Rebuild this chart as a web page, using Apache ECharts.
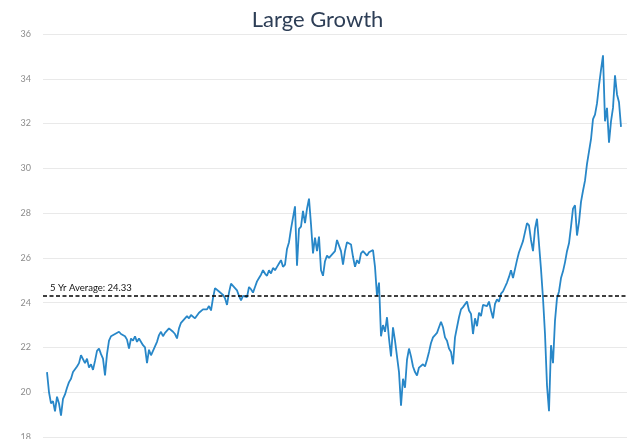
<!DOCTYPE html>
<html>
<head>
<meta charset="utf-8">
<title>Large Growth</title>
<script src="https://cdn.jsdelivr.net/npm/echarts@6/dist/echarts.min.js"></script>
<style>
  html, body { margin: 0; padding: 0; background: #fff; }
  #chart { width: 635px; height: 439px; }
</style>
</head>
<body>
<div id="chart"></div>
<script>
// 每周读数 (one value per week)
const values = [
  20.9, 20.0, 19.5, 19.6, 19.15, 19.8, 19.5, 18.95, 19.7, 19.9,
  20.2, 20.45, 20.6, 20.9, 20.95, 21.15, 21.3, 21.65, 21.7, 21.3,
  21.5, 21.1, 21.25, 21.0, 21.4, 21.85, 21.95, 21.7, 21.5, 20.75,
  21.7, 22.3, 22.5, 22.45, 22.6, 22.55, 22.7, 22.6, 22.65, 22.5,
  22.35, 21.95, 22.4, 22.3, 22.5, 22.25, 22.4, 22.35, 22.1, 22.0,
  21.3, 21.9, 21.65, 21.85, 22.05, 22.25, 22.55, 22.7, 22.5, 22.65,
  22.75, 22.85, 22.8, 22.7, 22.6, 22.4, 22.85, 23.1, 23.2, 23.3,
  23.4, 23.3, 23.45, 23.4, 23.3, 23.25, 23.55, 23.6, 23.7, 23.65,
  23.7, 23.85, 23.65, 24.2, 24.65, 24.7, 24.5, 24.55, 24.35, 24.2,
  23.9, 24.45, 24.85, 24.75, 24.65, 24.55, 24.3, 24.1, 24.3, 24.35,
  24.25, 24.7, 24.6, 24.45, 24.7, 24.95, 25.1, 25.25, 25.45, 25.3,
  25.2, 25.45, 25.3, 25.55, 25.45, 25.6, 25.75, 25.9, 25.6, 25.7,
  26.4, 26.7, 27.3, 27.25, 28.3, 25.65, 27.3, 27.4, 28.1, 27.55,
  28.2, 28.65, 27.5, 26.2, 26.9, 26.3, 26.95, 25.45, 25.2, 25.85,
  26.1, 26.0, 26.1, 26.2, 26.3, 26.8, 26.75, 26.3, 25.7, 26.3,
  26.7, 26.75, 26.6, 26.05, 25.6, 25.9, 25.75, 26.2, 26.3, 26.3,
  26.1, 26.25, 26.3, 26.35, 25.6, 24.3, 24.9, 22.5, 23.0, 22.7,
  23.35, 22.4, 21.6, 22.9, 22.3, 21.6, 20.9, 19.4, 20.6, 20.2,
  21.45, 21.95, 21.6, 21.15, 20.9, 20.75, 21.1, 21.1, 21.25, 21.15,
  21.45, 21.8, 22.2, 22.45, 22.55, 22.65, 22.9, 23.15, 22.9, 22.45,
  22.3, 21.95, 21.8, 21.25, 22.45, 22.9, 23.35, 23.7, 23.8, 23.85,
  24.05, 23.65, 23.5, 22.6, 23.3, 22.95, 23.55, 23.4, 23.9, 23.95,
  23.85, 24.05, 23.65, 23.3, 23.95, 24.15, 24.05, 24.4, 24.5, 24.7,
  24.9, 25.15, 25.45, 25.1, 25.5, 25.9, 26.25, 26.5, 26.75, 27.15,
  27.55, 27.45, 26.8, 26.3, 27.3, 27.75, 27.8, 25.5, 24.2, 22.6,
  20.3, 19.15, 22.1, 21.3, 23.2, 24.2, 24.5, 25.1, 25.4, 25.8,
  26.3, 26.65, 27.4, 28.2, 28.35, 27.0, 27.6, 28.5, 29.0, 29.45,
  30.2, 30.2, 31.3, 32.2, 32.4, 32.9, 33.7, 34.4, 35.05, 32.1,
  32.7, 31.15, 32.1, 32.7, 34.15, 33.3, 32.95, 31.85
];

const avgLabel = '5 Yr Average';
const avgValue = 24.33;
const yTicks = { min: 18, max: 36, step: 2 };

const chart = echarts.init(document.getElementById('chart'));

const option = {
  animation: false,
  title: {
    text: 'Large Growth',
    left: 'center',
    top: 4,
    textStyle: {
      fontFamily: 'Lato',
      fontSize: 22,
      fontWeight: 'normal',
      color: '#2d3e56'
    }
  },
  grid: { left: 43, right: 8, top: 34, bottom: 2, outerBoundsMode: 'none' },
  xAxis: {
    type: 'value',
    min: -2,
    max: values.length + 2,
    show: false
  },
  yAxis: {
    type: 'value',
    min: yTicks.min,
    max: yTicks.max,
    interval: yTicks.step,
    axisLine: { show: false },
    axisTick: { show: false },
    axisLabel: { color: '#8c8c8c', fontSize: 9, margin: 12, fontFamily: 'Lato' },
    splitLine: { lineStyle: { color: '#e9e9e9', width: 1 } }
  },
  series: [
    {
      type: 'line',
      data: values.map((v, i) => [i, v]),
      showSymbol: false,
      lineStyle: { color: '#2887c8', width: 1.8 },
      itemStyle: { color: '#2887c8' },
      markLine: {
        silent: true,
        symbol: 'none',
        lineStyle: { color: '#000', type: [4, 2.5], width: 1.5 },
        label: {
          position: 'insideStartTop',
          formatter: avgLabel + ': ' + avgValue,
          color: '#111',
          fontSize: 9.5,
          fontFamily: 'Lato',
          distance: [7, 2]
        },
        data: [{ yAxis: avgValue }]
      }
    }
  ]
};

chart.setOption(option);
</script>
</body>
</html>
